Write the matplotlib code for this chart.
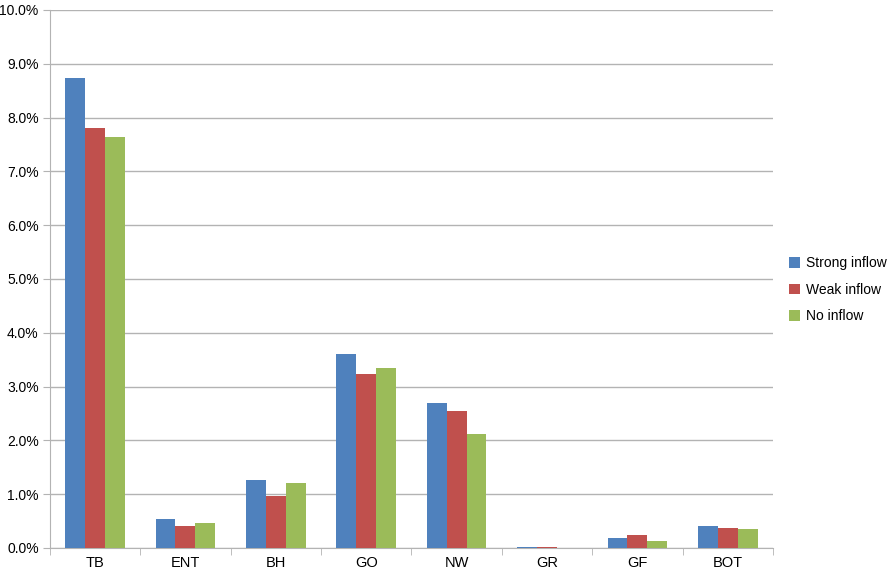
import matplotlib
matplotlib.use("Agg")
import matplotlib.pyplot as plt
import numpy as np
from matplotlib.ticker import FuncFormatter, MultipleLocator

plt.rcParams['font.family'] = ['Liberation Sans', 'DejaVu Sans']

categories = ["TB", "ENT", "BH", "GO", "NW", "GR", "GF", "BOT"]
strong = [8.74, 0.54, 1.26, 3.61, 2.70, 0.02, 0.18, 0.40]
weak = [7.80, 0.41, 0.97, 3.23, 2.55, 0.015, 0.24, 0.37]
none_ = [7.63, 0.46, 1.20, 3.35, 2.12, 0.005, 0.13, 0.35]
series = [("Strong inflow", strong, "#4F81BD"),
          ("Weak inflow", weak, "#C0504D"),
          ("No inflow", none_, "#9BBB59")]

fig = plt.figure(figsize=(8.9, 5.7), dpi=100)
ax = fig.add_axes([0.056, 0.0386, 0.8125, 0.9439])

x = np.arange(len(categories))
w = 0.22
for i, (name, vals, col) in enumerate(series):
    ax.bar(x + (i - 1) * w, vals, w, color=col, label=name, zorder=3)

ax.set_xlim(-0.5, len(categories) - 0.5)
ax.set_ylim(0, 10)
ax.yaxis.set_major_locator(MultipleLocator(1))
ax.yaxis.set_major_formatter(FuncFormatter(lambda v, p: "%.1f%%" % v))
ax.grid(axis='y', color='#B3B3B3', linewidth=1, zorder=0)

ax.set_xticks(x)
ax.set_xticklabels(categories)
ax.set_xticks(np.arange(-0.5, len(categories)), minor=True)
ax.tick_params(axis='x', which='major', length=0, pad=6, labelsize=10.5)
ax.tick_params(axis='x', which='minor', length=5, color='#B3B3B3', direction='out')
ax.tick_params(axis='y', length=5, color='#B3B3B3', labelsize=10, pad=3)

for s in ['top', 'right']:
    ax.spines[s].set_visible(False)
for s in ['left', 'bottom']:
    ax.spines[s].set_color('#B3B3B3')

ax.legend(loc='center left', bbox_to_anchor=(1.005, 0.48), frameon=False,
          fontsize=10, handlelength=0.8, handleheight=0.8, handletextpad=0.4,
          labelspacing=0.9)

fig.savefig("out.png", dpi=100)
